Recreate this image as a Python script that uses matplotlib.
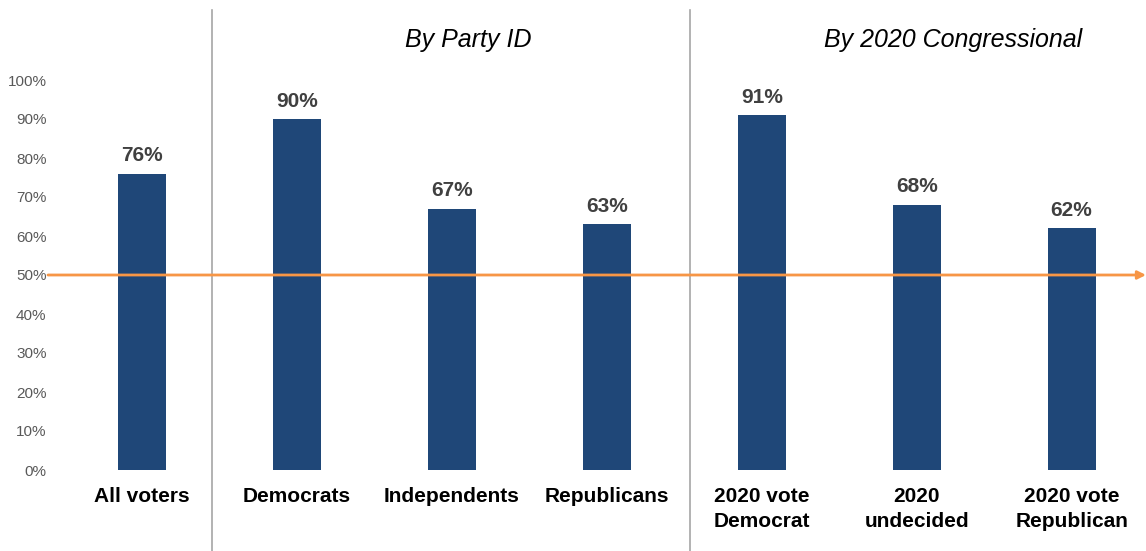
import matplotlib.pyplot as plt
import matplotlib.transforms as mtransforms

categories = ["All voters", "Democrats", "Independents", "Republicans",
              "2020 vote\nDemocrat", "2020\nundecided", "2020 vote\nRepublican"]
values = [76, 90, 67, 63, 91, 68, 62]
group_titles = ["By Party ID", "By 2020 Congressional"]
threshold = 50

plt.rcParams['font.family'] = ['Liberation Sans', 'DejaVu Sans']

px = 1/100
fig = plt.figure(figsize=(1146*px, 551*px), dpi=100)
ax = fig.add_axes([48/1146, 81/551, 1 - 48/1146, 390/551])

x = list(range(len(categories)))
ax.bar(x, values, width=0.31, color="#1F4778", zorder=2)

for xi, v in zip(x, values):
    ax.annotate(f"{v}%", (xi, v), xytext=(0, 6), textcoords="offset points",
                ha="center", va="bottom", fontsize=15, fontweight="bold",
                color="#404040")

ax.set_xlim(-0.606, 6.48)
ax.set_ylim(0, 100)
ax.set_yticks(range(0, 101, 10))
ax.set_yticklabels([f"{t}%" for t in range(0, 101, 10)], fontsize=11, color="#595959")
ax.set_xticks(x)
ax.set_xticklabels(categories, fontsize=15, fontweight="bold", color="black",
                   linespacing=1.45, va="top")
ax.tick_params(axis="y", length=0, pad=1)
ax.tick_params(axis="x", length=0, pad=12)
for s in ax.spines.values():
    s.set_visible(False)

# 50% reference line with arrow
ax.annotate("", xy=(6.48, threshold), xytext=(-0.606, threshold),
            arrowprops=dict(arrowstyle="-|>", color="#F79646", lw=2,
                            mutation_scale=12, shrinkA=0, shrinkB=0),
            zorder=3, annotation_clip=False)

# group separators
trans = mtransforms.blended_transform_factory(ax.transData, fig.transFigure)
for sx in [0.452, 3.535]:
    ax.plot([sx, sx], [0, 1 - 10/551], transform=trans, color="#A6A6A6",
            lw=1.2, clip_on=False)

fig.text(468/1146, 1 - 40/551, group_titles[0], ha="center", va="center",
         fontsize=18, fontstyle="italic")
fig.text(953/1146, 1 - 40/551, group_titles[1], ha="center", va="center",
         fontsize=18, fontstyle="italic")

plt.savefig("out.png", dpi=100)
